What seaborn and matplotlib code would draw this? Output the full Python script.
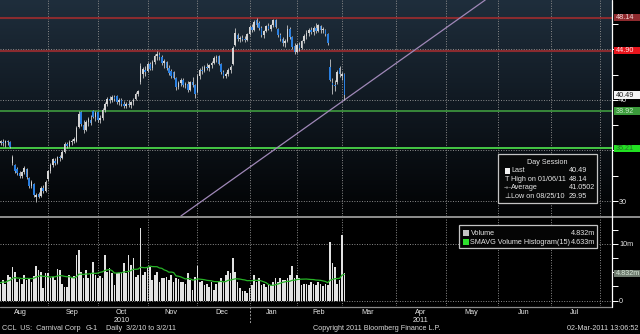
import numpy as np
import pandas as pd
import matplotlib
matplotlib.use("Agg")
import matplotlib.pyplot as plt
from matplotlib.patches import Rectangle
from matplotlib.lines import Line2D
from matplotlib.colors import LinearSegmentedColormap
import seaborn as sns

sns.set_theme(style="dark")
plt.rcParams["font.family"] = ["Liberation Sans", "DejaVu Sans"]

W, H = 640, 334
FS = 5.2

# ---------------- data: CCL daily sessions, 3 Aug 2010 .. 2 Mar 2011 ----------------
holidays = ["2010-09-06", "2010-11-25", "2010-12-24", "2011-01-17", "2011-02-21"]

opens = [35.5, 35.7, 35.8, 35.7, 35.9, 35.8, 33.8, 33.6, 33.2, 32.8, 32.5, 32.9, 33.2, 32.3, 31.5, 31.7,
         30.4, 30.7, 30.5, 31.3, 31.0, 32.2, 33.0, 33.6, 34.0, 33.8, 34.4, 34.3, 34.9, 35.6, 35.4, 35.8,
         35.9, 35.9, 37.3, 38.8, 37.5, 37.0, 37.8, 38.0, 38.9, 38.3, 38.8, 38.0, 38.2, 39.0, 39.6, 40.1,
         40.0, 40.3, 40.4, 39.8, 40.0, 39.6, 39.4, 39.6, 39.5, 39.8, 40.1, 40.6, 41.8, 42.6, 43.0, 42.9,
         43.6, 43.2, 43.8, 44.4, 44.5, 44.3, 43.7, 43.8, 43.2, 42.9, 42.8, 42.2, 41.3, 41.7, 42.0, 41.5,
         41.6, 41.0, 41.8, 41.5, 40.8, 42.4, 43.0, 42.9, 43.3, 43.2, 43.5, 43.7, 44.2, 44.4, 43.6, 42.8,
         42.4, 42.6, 43.0, 43.6, 45.4, 46.4, 46.0, 46.1, 46.0, 45.9, 46.5, 47.2, 46.9, 47.9, 47.6, 47.1,
         46.4, 46.8, 47.3, 47.0, 47.4, 47.9, 47.0, 46.4, 46.0, 45.6, 45.8, 47.0, 46.2, 45.3, 44.8, 45.4,
         45.1, 45.8, 46.3, 46.6, 46.9, 46.7, 47.1, 46.8, 47.3, 46.9, 46.9, 46.5, 43.3, 41.7, 41.5, 41.8,
         43.2, 42.4, 42.6]
highs = [35.9, 36.0, 36.1, 36.0, 36.0, 35.9, 34.6, 33.7, 33.4, 33.0, 33.0, 33.5, 33.3, 32.4, 32.1, 31.8,
         30.8, 30.9, 31.5, 31.6, 32.1, 33.1, 33.8, 34.3, 34.3, 34.5, 34.6, 35.0, 35.8, 35.8, 36.0, 36.1,
         36.3, 37.4, 38.9, 38.9, 38.0, 38.0, 38.3, 38.5, 39.0, 38.9, 38.9, 38.5, 39.2, 39.8, 40.3, 40.4,
         40.5, 40.5, 40.5, 40.2, 40.2, 39.9, 39.8, 40.0, 39.9, 40.2, 40.8, 41.0, 43.7, 43.3, 43.4, 43.8,
         43.8, 44.0, 44.6, 44.9, 44.8, 44.5, 44.1, 43.9, 43.5, 43.1, 42.9, 42.3, 41.9, 42.2, 42.2, 41.8,
         41.9, 41.9, 42.3, 41.6, 42.6, 43.2, 43.4, 43.5, 43.7, 43.6, 43.9, 44.4, 44.5, 44.5, 43.7, 43.0,
         42.8, 43.2, 43.5, 45.3, 47.1, 46.6, 46.3, 46.4, 46.3, 46.6, 47.4, 47.5, 47.9, 48.14, 47.8, 47.3,
         46.9, 47.4, 47.6, 47.5, 48.0, 48.0, 47.1, 46.6, 46.2, 46.0, 47.4, 47.2, 46.3, 45.6, 45.6, 45.7,
         45.9, 46.5, 46.9, 47.1, 47.2, 47.3, 47.6, 47.5, 47.4, 47.2, 47.0, 46.6, 44.1, 42.2, 42.0, 43.0,
         43.4, 42.8, 42.7]
lows = [35.3, 35.5, 35.4, 35.3, 35.5, 35.2, 33.6, 32.8, 32.6, 32.3, 32.3, 32.7, 32.2, 31.3, 31.3, 30.4,
        29.95, 30.3, 30.4, 30.8, 30.9, 32.0, 32.8, 33.4, 33.6, 33.7, 34.0, 34.2, 34.8, 35.2, 35.3, 35.5,
        35.7, 35.8, 37.2, 37.4, 36.7, 36.9, 37.4, 37.5, 38.2, 37.9, 37.8, 37.7, 38.0, 38.8, 39.4, 39.7,
        39.8, 39.9, 39.6, 39.5, 39.4, 39.2, 39.2, 39.3, 39.2, 39.5, 40.0, 40.4, 41.6, 42.2, 42.4, 42.8,
        43.0, 43.0, 43.6, 44.0, 44.0, 43.5, 43.2, 43.0, 42.5, 42.2, 42.1, 41.0, 41.1, 41.4, 41.3, 41.2,
        40.8, 40.9, 41.3, 40.2, 40.7, 42.1, 42.6, 42.8, 43.0, 42.9, 43.2, 43.6, 43.8, 43.5, 42.6, 42.2,
        42.2, 42.4, 42.7, 43.5, 45.3, 45.8, 45.7, 45.8, 45.7, 45.8, 46.4, 46.7, 46.8, 47.2, 46.9, 46.2,
        46.1, 46.7, 46.9, 46.8, 47.2, 47.1, 46.2, 45.8, 45.3, 45.2, 45.7, 46.0, 45.0, 44.6, 44.7, 44.9,
        45.0, 45.6, 46.0, 46.3, 46.5, 46.4, 46.6, 46.7, 46.6, 46.6, 46.3, 45.4, 41.9, 40.6, 40.9, 41.6,
        42.3, 42.0, 40.0]
closes = [35.8, 35.9, 35.7, 35.9, 35.8, 35.3, 34.4, 33.0, 32.8, 32.5, 32.9, 33.3, 32.4, 31.5, 31.9, 30.6,
          30.6, 30.4, 31.3, 31.0, 31.9, 33.0, 33.6, 34.2, 33.8, 34.4, 34.3, 34.9, 35.6, 35.4, 35.8, 35.9,
          36.1, 37.2, 38.6, 37.6, 37.0, 37.8, 38.1, 37.7, 38.3, 38.7, 38.0, 38.2, 39.0, 39.6, 40.1, 40.0,
          40.3, 40.1, 39.8, 40.0, 39.6, 39.4, 39.6, 39.5, 39.8, 40.0, 40.6, 40.9, 43.4, 43.1, 42.8, 43.6,
          43.1, 43.8, 44.4, 44.6, 44.3, 43.7, 43.9, 43.2, 42.7, 42.4, 42.2, 41.3, 41.7, 42.0, 41.5, 41.6,
          41.0, 41.8, 41.5, 40.6, 42.4, 43.0, 42.9, 43.3, 43.2, 43.5, 43.7, 44.2, 44.3, 43.6, 42.8, 42.4,
          42.6, 43.0, 43.3, 45.1, 46.6, 46.0, 46.1, 46.0, 45.9, 46.5, 47.2, 46.9, 47.7, 47.4, 47.1, 46.4,
          46.8, 47.3, 47.0, 47.4, 47.9, 47.2, 46.4, 46.0, 45.6, 45.8, 47.0, 46.2, 45.2, 44.8, 45.4, 45.1,
          45.8, 46.3, 46.6, 46.9, 46.7, 47.1, 46.8, 47.4, 46.9, 47.0, 46.5, 45.6, 42.0, 41.5, 41.4, 42.8,
          42.6, 42.6, 40.49]
volume_m = [3.3, 3.0, 3.6, 2.9, 4.5, 4.2, 5.9, 5.1, 3.3, 3.8, 3.0, 4.5, 3.6, 4.0, 3.3, 4.4,
            6.1, 5.4, 5.0, 2.2, 4.8, 4.8, 3.9, 4.2, 3.6, 5.5, 5.4, 3.0, 2.45, 2.45, 4.5, 3.9,
            4.3, 8.0, 8.9, 5.1, 3.9, 5.4, 3.9, 4.8, 6.8, 4.5, 3.9, 4.4, 3.9, 8.1, 5.1, 5.7,
            4.9, 2.7, 4.8, 4.8, 5.1, 6.7, 4.8, 8.1, 6.3, 7.6, 4.2, 4.5, 12.9, 4.5, 5.1, 6.0,
            5.9, 3.6, 4.5, 5.1, 3.3, 3.9, 3.9, 4.2, 3.6, 4.5, 3.3, 3.9, 3.75, 3.3, 3.3, 3.0,
            4.8, 3.6, 1.9, 4.2, 6.1, 3.3, 3.5, 2.7, 3.0, 2.45, 3.3, 1.9, 3.0, 3.3, 3.9, 3.3,
            4.5, 5.3, 4.8, 7.6, 5.1, 3.3, 2.15, 1.6, 1.6, 1.3, 2.15, 2.7, 4.5, 3.3, 3.9, 2.7,
            3.0, 2.45, 3.0, 2.7, 3.3, 3.9, 3.2, 3.9, 3.6, 3.6, 3.9, 4.5, 6.1, 3.9, 4.5, 3.9,
            2.7, 3.0, 3.0, 2.7, 3.3, 3.0, 2.7, 3.3, 3.0, 2.5, 3.0, 2.8, 10.3, 6.6, 6.0, 3.0,
            3.56, 11.6, 4.832]

levels_red = [48.14, 44.90]
levels_green = [38.92, 35.21]
trend_pts = [(84, 29.67), (146, 40.0)]   # (session index, price)

months = ["Aug", "Sep", "Oct", "Nov", "Dec", "Jan", "Feb", "Mar", "Apr", "May", "Jun", "Jul"]
years = {"Oct": "2010", "Apr": "2011"}

# ---------------- session / slot calendar ----------------
hol = pd.to_datetime(holidays)
slots = pd.bdate_range("2010-08-02", "2011-08-31")
slots = slots[~slots.isin(hol)]
slot_pos = np.arange(len(slots)) - 1          # 3 Aug 2010 -> 0
cal = pd.DataFrame({"date": slots, "pos": slot_pos})
cal["ym"] = cal["date"].dt.to_period("M")
month_first = cal.groupby("ym")["pos"].min()
month_mid = cal.groupby("ym")["pos"].agg(lambda s: (s.min() + s.max()) / 2)

n = len(closes)
pos = np.arange(n)
df = pd.DataFrame({"pos": pos, "open": opens, "high": highs, "low": lows,
                   "close": closes, "vol": volume_m})
df["sma"] = df["vol"].rolling(15, min_periods=1).mean()
up = df["close"] >= df["open"]

XL = (0.76, 258.9)
YL_P = (28.515, 49.90)
YL_V = (-0.97, 14.6)

# ---------------- figure ----------------
fig = plt.figure(figsize=(W / 100, H / 100), dpi=100, facecolor="black")
ax1 = fig.add_axes([0, 1 - 216 / H, 612 / W, 216 / H])
ax2 = fig.add_axes([0, 1 - 306 / H, 612 / W, 88 / H])

grad_cmap = LinearSegmentedColormap.from_list(
    "bb", [(0, "#1f2e3c"), (0.45, "#111a23"), (1, "#020304")])
ax1.imshow(np.linspace(0, 1, 256).reshape(-1, 1), cmap=grad_cmap, aspect="auto",
           extent=[XL[0], XL[1], YL_P[0], YL_P[1]], zorder=-10, interpolation="bicubic")
ax2.set_facecolor("black")

for ax in (ax1, ax2):
    ax.grid(False)
    for s in ax.spines.values():
        s.set_visible(False)
    for m in month_first.values[1:]:
        ax.axvline(m, color="#8c8c8c", lw=0.7, ls=(0, (1, 1.6)), zorder=1)

for lv in (30, 35, 40, 45):
    ax1.axhline(lv, color="#8c8c8c", lw=0.7, ls=(0, (1, 1.6)), zorder=1)
for lv in (0, 10):
    ax2.axhline(lv, color="#8c8c8c", lw=0.7, ls=(0, (1, 1.6)), zorder=1)

# support / resistance levels
ax1.axhline(levels_red[0], color="#8a2b2f", lw=1.5, zorder=2)
ax1.axhline(levels_red[1], color="#8a2b2f", lw=1.5, zorder=2)
ax1.axhline(levels_green[0], color="#3f9a3f", lw=1.2, zorder=2)
ax1.axhline(levels_green[1], color="#45c845", lw=1.4, zorder=2)

# trend line
ax1.axline(trend_pts[0], trend_pts[1], color="#a088b8", lw=0.9, zorder=2)

# candles
body_lo = np.minimum(df["open"], df["close"])
body_h = np.maximum((df["close"] - df["open"]).abs(), 0.09)
cols = np.where(up, "#d4d4d4", "#2a7fe0")
ax1.vlines(df["pos"], df["low"], df["high"], color="#c8c8c8", lw=0.6, zorder=3)
ax1.bar(df["pos"], body_h, bottom=body_lo, width=0.66, color=cols, linewidth=0, zorder=4)

# volume histogram and its moving average
sns.barplot(data=df, x="pos", y="vol", native_scale=True, color="#e2e2e2", saturation=1,
            width=0.7, errorbar=None, linewidth=0, ax=ax2, zorder=3)
sns.lineplot(data=df, x="pos", y="sma", color="#27b327", lw=0.9, ax=ax2, zorder=4)

ax1.set_xlim(*XL)
ax1.set_ylim(*YL_P)
ax2.set_xlim(*XL)
ax2.set_ylim(*YL_V)
ax2.set_xlabel("")
ax2.set_ylabel("")

# axes ticks (35 and 45 sit under the level tags, so they carry no label)
ax1.yaxis.tick_right()
ax1.set_yticks([30, 35, 40, 45])
ax1.set_yticklabels(["30", "", "40", ""])
ax1.set_yticks([32.5, 37.5, 42.5, 47.5], minor=True)
ax1.set_xticks([])
ax2.yaxis.tick_right()
ax2.set_yticks([0, 10])
ax2.set_yticklabels(["0", "10m"])
ax2.set_yticks([2.5, 5, 7.5, 12.5], minor=True)
for ax in (ax1, ax2):
    ax.tick_params(axis="y", which="both", direction="out", length=4, width=0.7,
                   color="white", labelcolor="#e6e6e6", labelsize=FS, pad=1, right=True, left=False)

mids, labs = [], []
for per, mid in month_mid.items():
    name = per.strftime("%b")
    if XL[0] < mid < XL[1] - 4 and name in months:
        mids.append(mid)
        labs.append(name + ("\n" + years[name] if name in years else ""))
ax2.set_xticks(mids)
ax2.set_xticklabels(labs, fontsize=FS, color="#e6e6e6", linespacing=1.05)
ax2.tick_params(axis="x", length=0, pad=2.5, bottom=True)

# ---------------- figure-pixel helpers ----------------
def fx(x):
    return x / W


def fy(y):
    return 1 - y / H


def rect(x0, y0, x1, y1, **kw):
    fig.patches.append(Rectangle((fx(x0), fy(y1)), (x1 - x0) / W, (y1 - y0) / H,
                                 transform=fig.transFigure, **kw))


def line(xs, ys, **kw):
    fig.add_artist(Line2D([fx(v) for v in xs], [fy(v) for v in ys],
                          transform=fig.transFigure, **kw))


def text(x, y, s, **kw):
    kw.setdefault("fontsize", FS)
    kw.setdefault("color", "#e6e6e6")
    kw.setdefault("va", "center")
    fig.text(fx(x), fy(y), s, **kw)


def y_px(ax, v):
    return H - ax.transData.transform((XL[0], v))[1]


# panel frame pieces
rect(0, 215.8, 640, 218.2, facecolor="#8a8a8a", edgecolor="none", zorder=5)
line([0, 612], [306.5, 306.5], color="#8a8a8a", lw=0.9, zorder=5)
line([612, 612], [0, 307], color="white", lw=0.9, zorder=6)
jan = month_first[pd.Period("2011-01", "M")]
xj = ax2.transData.transform((jan, 0))[0]
line([xj, xj], [307, 324], color="#9a9a9a", lw=0.7, ls=(0, (2, 1.5)), zorder=5)

# right-hand value tags
def tag(yv, s, fc, tc, ax=ax1):
    yy = y_px(ax, yv)
    rect(614, yy - 3.6, 641, yy + 3.6, facecolor=fc, edgecolor="none", zorder=6)
    text(615.5, yy + 0.2, s, color=tc, zorder=7)


tag(levels_red[0], f"{levels_red[0]:.2f}", "#8e2a2e", "#f2d6d6")
tag(levels_red[1], f"{levels_red[1]:.2f}", "#e8141c", "#ffe8e8")
tag(closes[-1], f"{closes[-1]:.2f}", "#f4f4f4", "#202020")
tag(levels_green[0], f"{levels_green[0]:.2f}", "#3a9a3a", "#c8ecc8")
tag(levels_green[1], f"{levels_green[1]:.2f}", "#22e022", "#2c6c2c")
tag(volume_m[-1], f"{volume_m[-1]:.3f}m", "#6e7a6e", "#d8e8d8", ax=ax2)

# day-session legend
rect(498, 154, 597, 203, facecolor="#070808", edgecolor="#c4c4c4", lw=0.9, zorder=6)
text(547, 162.3, "Day Session", ha="center", zorder=7)
rows = [("Last", f"{closes[-1]:.2f}"),
        ("High on 01/06/11", f"{max(highs):.2f}"),
        ("Average", "41.0502"),
        ("Low on 08/25/10", f"{min(lows):.2f}")]
for k, (lab, val) in enumerate(rows):
    yy = 170.8 + 8.5 * k
    text(511, yy, lab, zorder=7)
    text(569, yy, val, zorder=7)
rect(505, 167.8, 510, 173.6, facecolor="#f0f0f0", edgecolor="none", zorder=7)
text(507.5, 179.2, "T", ha="center", fontsize=FS, zorder=7)
text(507.3, 187.5, "-+-", ha="center", fontsize=FS - 0.6, zorder=7)
text(507.5, 196.0, "\u22a5", ha="center", fontsize=FS, zorder=7)

# volume legend
rect(459, 224.8, 597, 248.3, facecolor="#050505", edgecolor="#c4c4c4", lw=0.9, zorder=6)
rect(463, 230.3, 469, 236.3, facecolor="#c4c4c4", edgecolor="none", zorder=7)
rect(463, 239.2, 469, 245.2, facecolor="#2ee02e", edgecolor="none", zorder=7)
text(470.5, 233.3, "Volume", zorder=7)
text(470.5, 242.2, "SMAVG Volume Histogram(15)", zorder=7)
text(595, 233.3, f"{volume_m[-1]:.3f}m", ha="right", zorder=7)
text(595, 242.2, f"{df['sma'].iloc[-1]:.3f}m", ha="right", zorder=7)

# footer
text(2, 329, "CCL  US:  Carnival Corp", color="#d8d8d8")
text(86, 329, "G-1", color="#d8d8d8")
text(106, 329, "Daily  3/2/10 to 3/2/11", color="#d8d8d8")
text(313, 329, "Copyright 2011 Bloomberg Finance L.P.", color="#d8d8d8")
text(638, 329, "02-Mar-2011 13:06:52", ha="right", color="#d8d8d8")

fig.savefig("out.png", dpi=100, facecolor="black")
